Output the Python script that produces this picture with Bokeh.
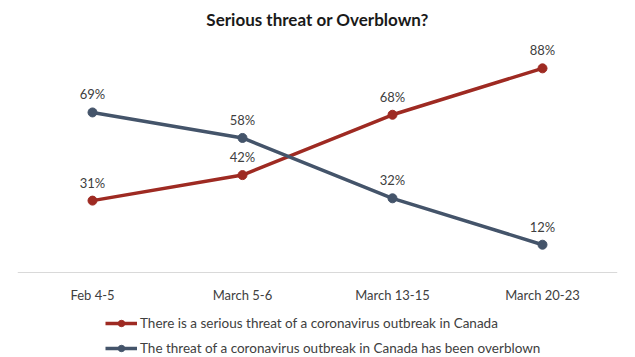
from bokeh.plotting import figure
from bokeh.models import ColumnDataSource, LabelSet, Legend, LegendItem, Range1d, CategoricalAxis
from bokeh.core.properties import value
from bokeh.embed import file_html
from bokeh.resources import INLINE

categories = ["Feb 4-5", "March 5-6", "March 13-15", "March 20-23"]
serious = [31, 42, 68, 88]
overblown = [69, 58, 32, 12]
serious_name = "There is a serious threat of a coronavirus outbreak in Canada"
overblown_name = "The threat of a coronavirus outbreak in Canada has been overblown"

RED = "#9E2A22"
BLUE = "#44546A"
FONT = "Lato"

src_s = ColumnDataSource(dict(x=categories, y=serious, t=[f"{v}%" for v in serious]))
src_o = ColumnDataSource(dict(x=categories, y=overblown, t=[f"{v}%" for v in overblown]))

p = figure(x_range=categories, y_range=Range1d(-36.6, 100), width=635, height=357,
           output_backend="svg", toolbar_location=None, x_axis_location=None,
           min_border_left=17, min_border_right=18, min_border_top=40, min_border_bottom=0)
p.outline_line_color = None
p.grid.visible = False
p.yaxis.visible = False
p.x_range.range_padding = 0

p.title.text = "Serious threat or Overblown?"
p.title.align = "center"
p.title.vertical_align = "top"
p.title.text_font = FONT
p.title.text_font_size = "17px"
p.title.text_font_style = "bold"
p.title.text_color = "#1a1a1a"
p.title.standoff = 17

ax = CategoricalAxis(fixed_location=0)
ax.axis_line_color = "#D9D9D9"
ax.axis_line_width = 1
ax.major_tick_line_color = None
ax.minor_tick_line_color = None
ax.major_label_text_font = FONT
ax.major_label_text_font_size = "13px"
ax.major_label_text_color = "#404040"
ax.major_label_standoff = 8
p.add_layout(ax, "below")

ls = p.line("x", "y", source=src_s, line_color=RED, line_width=3.5)
ms = p.scatter("x", "y", source=src_s, size=9, fill_color=RED, line_color=RED)
lo = p.line("x", "y", source=src_o, line_color=BLUE, line_width=3.5)
mo = p.scatter("x", "y", source=src_o, size=9, fill_color=BLUE, line_color=BLUE)

for src in (src_s, src_o):
    p.add_layout(LabelSet(x="x", y="y", text="t", source=src, y_offset=18,
                          text_align="center", text_baseline="middle",
                          text_font=value(FONT), text_font_size="13px", text_color="#404040"))

legend = Legend(items=[LegendItem(label=serious_name, renderers=[ls, ms]),
                       LegendItem(label=overblown_name, renderers=[lo, mo])],
                orientation="vertical", location=(88, 1))
legend.border_line_color = None
legend.background_fill_alpha = 0
legend.label_text_font = FONT
legend.label_text_font_size = "13.5px"
legend.label_text_color = "#404040"
legend.glyph_width = 32
legend.glyph_height = 16
legend.label_height = 16
legend.spacing = 9
legend.padding = 0
legend.margin = 0
legend.label_standoff = 3
p.add_layout(legend, "center")

open("out.html", "w").write(file_html(p, INLINE))
